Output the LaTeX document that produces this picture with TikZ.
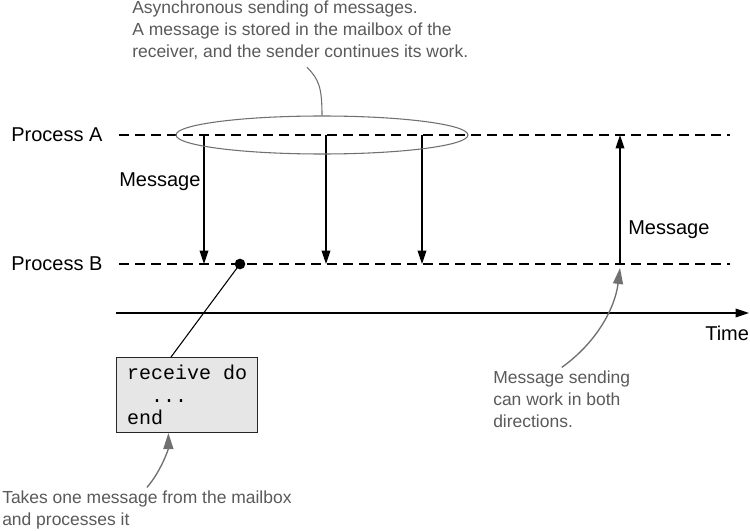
\documentclass[tikz,border=0pt]{standalone}
\usepackage{fontspec}
\setmainfont{Liberation Sans}
\setmonofont{Liberation Mono}
\usepackage{tikz}
\usetikzlibrary{positioning}
\usetikzlibrary{arrows.meta}
\usetikzlibrary{shapes.geometric}
\usepackage{xcolor}
\definecolor{notegray}{HTML}{5A5A5A}
\definecolor{linegray}{HTML}{707070}
\definecolor{boxgray}{HTML}{E6E6E6}
\newcommand\labelfont{\fontsize{15}{18}\selectfont}
\newcommand\notefont{\fontsize{13.1}{16.5}\selectfont}
\newcommand\codefont{\ttfamily\fontsize{15}{16.9}\selectfont}

\begin{document}
\begin{tikzpicture}[x=0.75pt, y=-0.75pt,
		lifeline/.style={black, line width=0.8pt, dash pattern=on 7.5pt off 4.5pt},
		msg/.style={black, line width=1pt, -{Triangle[length=10pt, width=6.5pt]}},
		pointer/.style={linegray, line width=1pt, -{Triangle[length=12pt, width=7.5pt]}},
		plainlabel/.style={font=\labelfont, inner sep=0pt, anchor=base west},
		note/.style={font=\notefont, text=notegray, inner sep=0pt, align=left, anchor=base west},
		codebox/.style={draw=black!85, fill=boxgray, line width=0.8pt, font=\codefont, align=left,
			minimum width=105.75pt, minimum height=56.25pt, inner sep=0pt, anchor=north west},
		dot/.style={circle, fill=black, inner sep=0pt, minimum size=8pt}]
	\fill[white] (0,0) rectangle (750,531);
	\useasboundingbox (0,0) rectangle (750,531);
	% processes and time axis
	\node[plainlabel] (procA) at (11,142) {Process A};
	\node[plainlabel] (procB) at (11,270) {Process B};
	\coordinate (aStart) at (119,135);
	\coordinate (aEnd) at (730,135);
	\coordinate (bStart) at (119,264);
	\coordinate (bEnd) at (730,264);
	\draw[lifeline] (aStart)--(aEnd);
	\draw[lifeline] (bStart)--(bEnd);
	\coordinate (timeStart) at (116,313);
	\coordinate (timeEnd) at (749,313);
	\draw[msg] (timeStart)--(timeEnd);
	\node[plainlabel] (timeLabel) at (705,340) {Time};
	% messages from A to B
	\foreach \x [count=\i] in {204,326,422} {
		\coordinate (sendA\i) at (\x,135);
		\coordinate (recvB\i) at (\x,264);
		\draw[msg] (sendA\i)--(recvB\i);
	}
	\node[plainlabel] (msgLeft) at (119,187) {Message};
	% message from B to A
	\coordinate (upB) at (620,264);
	\coordinate (upA) at (620,135);
	\draw[msg] (upB)--(upA);
	\node[plainlabel] (msgRight) at (628,235) {Message};
	% mailbox
	\node[draw=linegray, line width=0.8pt, ellipse, inner sep=0pt, minimum width=219pt, minimum height=28.5pt] (mailbox) at (322,135) {};
	\node[note] (asyncNote) at (132,58) {Asynchronous sending of messages.\\A message is stored in the mailbox of the\\receiver, and the sender continues its work.};
	\draw[linegray, line width=0.8pt] (mailbox.north) .. controls +(0,-28) and +(12,12) .. ([xshift=5pt, yshift=-5pt]asyncNote.south);
	% receive
	\node[dot] (recvDot) at (240,264) {};
	\node[codebox] (codeBox) at (116,357) {receive do\\\phantom{re}...\\end};
	\draw[black, line width=0.8pt] (recvDot.center)--([xshift=-12pt]codeBox.north);
	\node[note] (takesNote) at (2,525) {Takes one message from the mailbox\\and processes it};
	\draw[pointer] ([yshift=2pt]takesNote.north) .. controls +(14,-16) and +(0,16) .. ([xshift=-14pt]codeBox.south);
	% both directions
	\node[note] (bothNote) at (493,427) {Message sending\\can work in both\\directions.};
	\draw[pointer] ([yshift=2pt]bothNote.north) .. controls +(35,-25) and +(-5,40) .. ([yshift=-3pt]upB);
\end{tikzpicture}
\end{document}
